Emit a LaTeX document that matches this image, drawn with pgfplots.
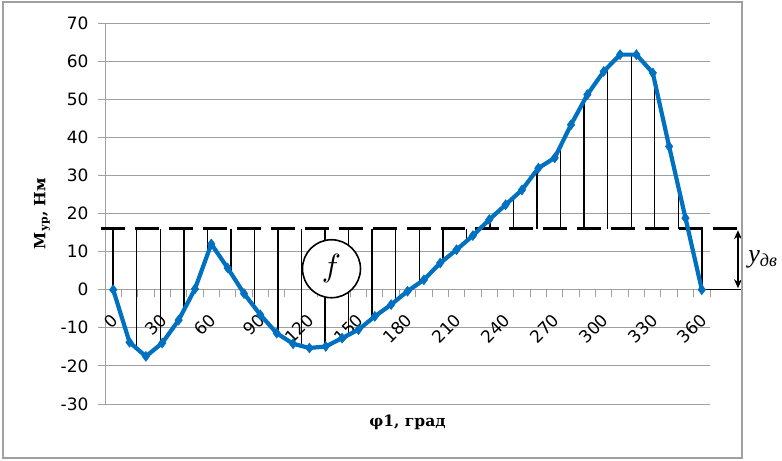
\documentclass[border=0pt]{standalone}
\usepackage{fontspec}
\setmainfont{DejaVu Sans}
\newfontfamily\lblfont{DejaVu Serif}
\newfontfamily\annfont{Liberation Serif}
\usepackage{graphicx}
\usepackage{pgfplots}
\pgfplotsset{compat=1.18}
\usetikzlibrary{arrows.meta}
\definecolor{xlblue}{RGB}{0,112,192}
\definecolor{gridgray}{RGB}{160,160,160}
\begin{document}
\begin{tikzpicture}
\begin{axis}[
  scale only axis, width=605pt, height=381pt,
  xmin=-5, xmax=365, ymin=-30, ymax=70,
  axis x line=middle, axis y line=left,
  axis line style={gridgray, line width=1pt, -},
  xtick={0,30,...,360},
  minor xtick={-5,5,...,365},
  ytick={-30,-20,...,70},
  tick align=outside,
  major tick length=7pt, minor tick length=7pt,
  major x tick style={draw=none},
  minor x tick style={gridgray, line width=1pt},
  ytick style={gridgray, line width=1pt},
  ymajorgrids, major y grid style={gridgray, line width=1pt},
  tick label style={font=\fontsize{17}{17}\selectfont, text=black},
  /pgf/number format/assume math mode=true,
  xticklabel style={xshift=4pt, yshift=-18pt, rotate=45, anchor=east},
  yticklabel style={xshift=-6pt},
  xlabel={\lblfont\bfseries φ1, град},
  ylabel={\lblfont\bfseries М\textsubscript{ур}, Нм},
  label style={font=\fontsize{15.5}{15.5}\selectfont},
  xlabel style={at={(axis description cs:0.5,-0.047)}, anchor=center},
  ylabel style={at={(axis description cs:-0.104,0.5)}, anchor=center},
  clip=false,
]
% hatch lines
\addplot[black, line width=1.4pt, unbounded coords=jump] coordinates {
(0,16)(0,0)(7,nan)
(14.4,16)(14.4,-15.4)(20,nan)
(28.8,16)(28.8,-14.4)(35,nan)
(43.2,16)(43.2,-5.4)(50,nan)
(57.6,16)(57.6,9.2)(65,nan)
(72,16)(72,4.4)(80,nan)
(86.4,16)(86.4,-4.6)(95,nan)
(100.8,16)(100.8,-11.6)(108,nan)
(115.2,16)(115.2,-14.8)(122,nan)
(129.6,16)(129.6,-14.9)(137,nan)
(144,16)(144,-11.8)(150,nan)
(158.4,16)(158.4,-7.6)(165,nan)
(172.8,16)(172.8,-2.9)(180,nan)
(187.2,16)(187.2,1.8)(195,nan)
(201.6,16)(201.6,7.6)(210,nan)
(216,16)(216,12.7)(225,nan)
(230.4,16)(230.4,18.6)(238,nan)
(244.8,16)(244.8,24.2)(252,nan)
(259.2,16)(259.2,31.4)(265,nan)
(273.6,16)(273.6,37.7)(280,nan)
(288,16)(288,49.6)(295,nan)
(302.4,16)(302.4,58.4)(310,nan)
(316.8,16)(316.8,61.7)(325,nan)
(331.2,16)(331.2,54.6)(338,nan)
(345.6,16)(345.6,27.1)(352,nan)
(360,16)(360,0)
};
% dashed level line
\addplot[black, line width=2.8pt, dash pattern=on 24pt off 10pt] coordinates {(-7.3,16) (385.2,16)};
% zero line extension
\addplot[black, line width=1.2pt] coordinates {(360,0) (385.2,0)};
% double arrow
\addplot[black, line width=1.2pt, {Stealth[length=9pt,width=8pt]}-{Stealth[length=9pt,width=8pt]}] coordinates {(382.1,15.6) (382.1,0.4)};
% curve
\addplot[xlblue, line width=4.2pt, mark=diamond*, mark size=5pt,
  mark options={solid, fill=xlblue, draw=xlblue, line width=0.5pt}] coordinates {
(0,0)(10,-13.8)(20,-17.5)(30,-14.0)(40,-8.0)(50,0.2)(60,12.0)(70,5.7)(80,-1.0)(90,-6.6)
(100,-11.4)(110,-14.2)(120,-15.3)(130,-14.9)(140,-12.7)(150,-10.5)(160,-7.0)(170,-3.9)
(180,-0.4)(190,2.6)(200,7.0)(210,10.5)(220,14.2)(230,18.4)(240,22.3)(250,26.2)(260,31.9)
(270,34.6)(280,43.3)(290,51.2)(300,57.3)(310,61.7)(320,61.7)(330,56.9)(340,37.6)(350,18.8)(360,0)
};
\node[circle, draw=black, line width=1.6pt, fill=white, minimum size=58pt, inner sep=0pt]
  at (axis cs:133.5,5.5) {\scalebox{3.2}{$f$}};
\node[anchor=west, inner sep=0pt] at (axis cs:388.3,8)
  {\annfont\itshape\fontsize{26}{26}\selectfont y\textsubscript{дв}};
\draw[gridgray, line width=1.2pt] (rel axis cs:-0.1686,-0.1417) rectangle (rel axis cs:1.0529,1.0551);
\coordinate (bbll) at (rel axis cs:-0.1736,-0.147);
\coordinate (bbur) at (rel axis cs:1.119,1.0604);
\end{axis}
\pgfresetboundingbox
\path (bbll) rectangle (bbur);
\end{tikzpicture}
\end{document}
